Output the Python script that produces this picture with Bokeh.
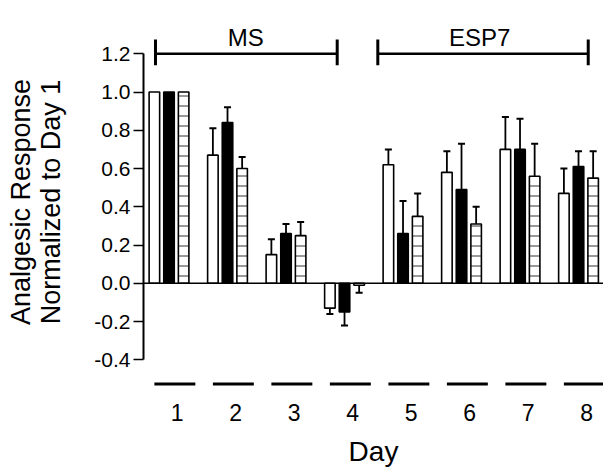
from bokeh.plotting import figure
from bokeh.models import Range1d, FixedTicker, PrintfTickFormatter, Span
from bokeh.embed import file_html
from bokeh.resources import INLINE
from bokeh.core.properties import value

# ---------------- data ----------------
days = [1, 2, 3, 4, 5, 6, 7, 8]
y_ticks = [-0.4, -0.2, 0.0, 0.2, 0.4, 0.6, 0.8, 1.0, 1.2]

open_mean = [1.00, 0.67, 0.15, -0.13, 0.62, 0.58, 0.70, 0.47]
open_err = [0.00, 0.14, 0.08, 0.03, 0.08, 0.11, 0.17, 0.13]

filled_mean = [1.00, 0.84, 0.26, -0.15, 0.26, 0.49, 0.70, 0.61]
filled_err = [0.00, 0.08, 0.05, 0.07, 0.17, 0.24, 0.16, 0.08]

striped_mean = [1.00, 0.60, 0.25, -0.01, 0.35, 0.31, 0.56, 0.55]
striped_err = [0.00, 0.06, 0.07, 0.04, 0.12, 0.09, 0.17, 0.14]

treatments = ["MS", "ESP7"]

# ---------------- style ----------------
FONT = "Liberation Sans"
GROUP_SHIFT = -0.14
OFFSETS = [-0.25, 0.0, 0.25]
BAR_W = 0.18
CAP = 0.06

p = figure(
    output_backend="svg", toolbar_location=None, tools="",
    x_range=Range1d(0.424, 8.287), y_range=Range1d(-0.550, 1.400),
    width=603, height=469,
    min_border_left=143, min_border_right=0, min_border_top=15, min_border_bottom=79,
)
p.outline_line_color = None
p.grid.visible = False
p.background_fill_color = "white"
p.border_fill_color = "white"

p.add_layout(Span(location=0, dimension="width", line_color="black", line_width=1.5))

series = [
    (open_mean, open_err, dict(fill_color="white")),
    (filled_mean, filled_err, dict(fill_color="black")),
    (striped_mean, striped_err, dict(fill_color="white", hatch_pattern="horizontal_line",
                                     hatch_color="#333333", hatch_scale=10, hatch_weight=1)),
]

for k, (mean, err, style) in enumerate(series):
    xs = [d + GROUP_SHIFT + OFFSETS[k] for d in days]
    p.vbar(x=xs, top=mean, bottom=0, width=BAR_W, line_color="black", line_width=1.6, **style)
    ex, y0, y1 = [], [], []
    for x, m, e in zip(xs, mean, err):
        if e > 0:
            ex.append(x)
            y0.append(m)
            y1.append(m + e if m >= 0 else m - e)
    p.segment(x0=ex, y0=y0, x1=ex, y1=y1, line_color="black", line_width=1.8)
    p.segment(x0=[x - CAP for x in ex], y0=y1, x1=[x + CAP for x in ex], y1=y1,
              line_color="black", line_width=2)

# dashes under each day
p.segment(x0=[d - 0.39 for d in days], y0=[-0.527] * len(days),
          x1=[d + 0.31 for d in days], y1=[-0.527] * len(days),
          line_color="black", line_width=3)

# treatment brackets
bx0 = [0.629, 4.429]
bx1 = [3.735, 8.026]
p.segment(x0=bx0, y0=[1.2, 1.2], x1=bx1, y1=[1.2, 1.2], line_color="black", line_width=2.5)
p.segment(x0=bx0 + bx1, y0=[1.14] * 4, x1=bx0 + bx1, y1=[1.274] * 4, line_color="black", line_width=3)
p.text(x=[2.173, 6.171], y=[1.284, 1.284], text=treatments,
       text_font=value(FONT), text_font_size="24px", text_align="center",
       text_baseline="alphabetic", text_color="black")

# x axis
xa = p.xaxis[0]
xa.ticker = FixedTicker(ticks=days)
xa.axis_line_color = None
xa.major_tick_line_color = None
xa.minor_tick_line_color = None
xa.major_label_standoff = 9
xa.major_label_text_font = FONT
xa.major_label_text_font_size = "23px"
xa.major_label_text_color = "black"
xa.axis_label = "Day"
xa.axis_label_text_font = FONT
xa.axis_label_text_font_size = "28px"
xa.axis_label_text_font_style = "normal"
xa.axis_label_text_color = "black"
xa.axis_label_standoff = 12

# y axis
ya = p.yaxis[0]
ya.ticker = FixedTicker(ticks=y_ticks)
ya.formatter = PrintfTickFormatter(format="%.1f")
ya.bounds = (-0.4, 1.2)
ya.axis_line_width = 2
ya.axis_line_color = "black"
ya.major_tick_in = 0
ya.major_tick_out = 10
ya.major_tick_line_width = 1.5
ya.major_tick_line_color = "black"
ya.minor_tick_line_color = None
ya.major_label_standoff = 3
ya.major_label_text_font = FONT
ya.major_label_text_font_size = "21px"
ya.major_label_text_color = "black"
ya.axis_label = "Analgesic Response\nNormalized to Day 1"
ya.axis_label_text_font = FONT
ya.axis_label_text_font_size = "27px"
ya.axis_label_text_font_style = "normal"
ya.axis_label_text_color = "black"
ya.axis_label_text_line_height = 1.0
ya.axis_label_standoff = 25

open("out.html", "w").write(file_html(p, INLINE))
